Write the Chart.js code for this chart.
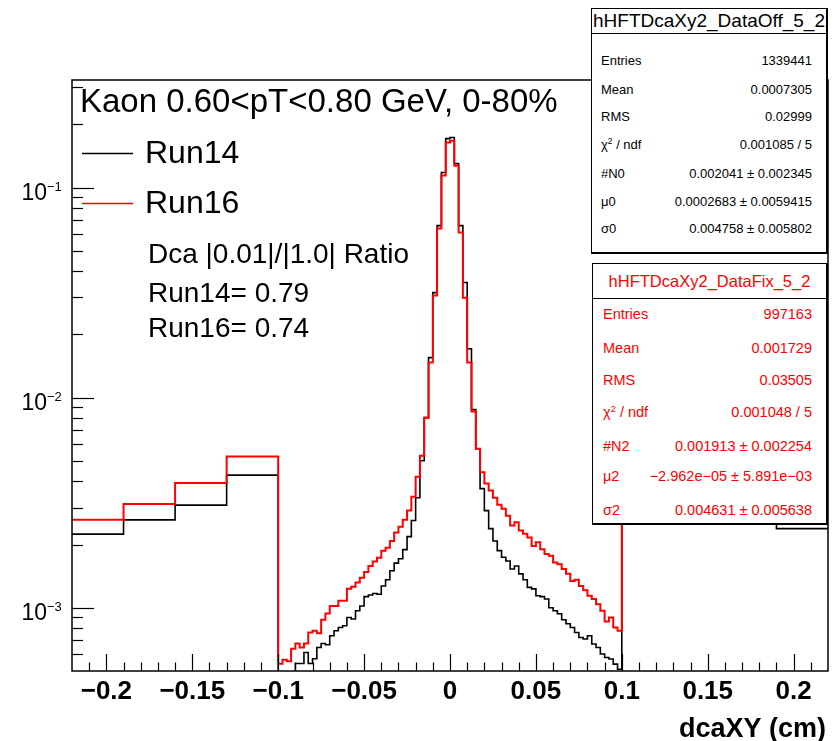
<!DOCTYPE html>
<html>
<head>
<meta charset="utf-8">
<script src="https://cdn.jsdelivr.net/npm/chart.js@4.4.0/dist/chart.umd.min.js"></script>
<style>
  html, body { margin: 0; padding: 0; background: #fff; }
  #wrap { position: relative; width: 836px; height: 741px; font-family: "Liberation Sans", Arial, sans-serif; }
  #c { position: absolute; left: 0; top: 0; }
  .stats { position: absolute; background: #fff; border: 1px solid #000; border-right-width: 2px; border-bottom-width: 2px; box-sizing: border-box; }
  .stats .ttl { position: absolute; left: 0; right: 0; top: 0; text-align: center; white-space: nowrap; border-bottom: 1px solid #000; }
  .stats .row { position: absolute; left: 0; right: 0; height: 20px; line-height: 20px; display: flex; justify-content: space-between; white-space: nowrap; }
  .stats sup { font-size: 65%; vertical-align: 5px; line-height: 0; }
</style>
</head>
<body>
<div id="wrap">
  <canvas id="c" width="836" height="741" style="width:836px;height:741px"></canvas>
</div>
<script>
// binning: 4 wide bins each side, 80 fine bins in the middle
const wideLeftEdges = [-0.22, -0.19, -0.16, -0.13];
const wideRightEdges = [0.10, 0.13, 0.16, 0.19];
const fineLow = -0.1;
const fineWidth = 0.0025;
const xEnd = 0.22;

// Run14 (black)
const run14Left = [2.24e-3, 2.62e-3, 3.08e-3, 4.28e-3];
const run14Fine = [
  4.6e-4, 4.6e-4, 4.7e-4, 4.8e-4, 5.43e-4, 5.43e-4, 6.12e-4, 5.43e-4, 5.72e-4, 6.47e-4,
  6.76e-4, 6.67e-4, 7.36e-4, 7.77e-4, 8.06e-4, 8.21e-4, 8.99e-4, 8.84e-4, 9.68e-4, 1.02e-3,
  1.13e-3, 1.15e-3, 1.17e-3, 1.16e-3, 1.27e-3, 1.36e-3, 1.50e-3, 1.63e-3, 1.71e-3, 1.89e-3,
  2.18e-3, 2.60e-3, 3.34e-3, 5.01e-3, 8.03e-3, 1.55e-2, 3.16e-2, 6.59e-2, 0.118, 0.171,
  0.173, 0.130, 0.0659, 0.0353, 0.0171, 8.77e-3, 5.71e-3, 3.69e-3, 2.90e-3, 2.38e-3,
  2.08e-3, 1.87e-3, 1.74e-3, 1.67e-3, 1.53e-3, 1.58e-3, 1.45e-3, 1.36e-3, 1.25e-3, 1.23e-3,
  1.14e-3, 1.13e-3, 1.10e-3, 1.00e-3, 9.68e-4, 9.36e-4, 8.77e-4, 8.39e-4, 8.06e-4, 7.63e-4,
  7.22e-4, 7.10e-4, 7.36e-4, 6.72e-4, 6.47e-4, 6.02e-4, 5.80e-4, 5.70e-4, 5.39e-4, 5.10e-4
];
const run14Right = [4.2e-3, 3.1e-3, 2.6e-3, 2.38e-3];

// Run16 (red)
const run16Left = [2.62e-3, 3.12e-3, 3.92e-3, 5.24e-3];
const run16Fine = [
  5.41e-4, 5.65e-4, 5.56e-4, 6.38e-4, 6.76e-4, 6.47e-4, 6.76e-4, 7.63e-4, 7.77e-4, 7.56e-4,
  8.77e-4, 9.40e-4, 1.02e-3, 1.02e-3, 1.08e-3, 1.08e-3, 1.23e-3, 1.26e-3, 1.32e-3, 1.39e-3,
  1.48e-3, 1.58e-3, 1.66e-3, 1.73e-3, 1.87e-3, 1.93e-3, 2.08e-3, 2.28e-3, 2.43e-3, 2.62e-3,
  2.90e-3, 3.38e-3, 4.20e-3, 5.29e-3, 8.03e-3, 1.47e-2, 3.06e-2, 6.38e-2, 0.114, 0.164,
  0.167, 0.127, 0.0611, 0.0299, 0.0147, 8.58e-3, 5.71e-3, 4.41e-3, 3.90e-3, 3.61e-3,
  3.34e-3, 3.09e-3, 2.96e-3, 2.74e-3, 2.46e-3, 2.55e-3, 2.33e-3, 2.25e-3, 2.16e-3, 1.97e-3,
  2.05e-3, 1.90e-3, 1.80e-3, 1.77e-3, 1.64e-3, 1.61e-3, 1.53e-3, 1.45e-3, 1.34e-3, 1.36e-3,
  1.27e-3, 1.21e-3, 1.14e-3, 1.10e-3, 1.04e-3, 9.68e-4, 8.6e-4, 8.99e-4, 8.06e-4, 7.77e-4
];
const run16Right = [5.1e-3, 3.9e-3, 3.1e-3, 2.7e-3];

// axis ticks
const xTickValues = [-0.2, -0.15, -0.1, -0.05, 0, 0.05, 0.1, 0.15, 0.2];
const xTickLabels = ['\u22120.2', '\u22120.15', '\u22120.1', '\u22120.05', '0', '0.05', '0.1', '0.15', '0.2'];
const yTickValues = [0.1, 0.01, 0.001];
const yTickExps = ['\u22121', '\u22122', '\u22123'];

// stats boxes
const offLabels = ['Entries', 'Mean', 'RMS', '\u03c7<sup>2</sup> / ndf', '#N0', '\u03bc0', '\u03c30'];
const offValues = ['1339441', '0.0007305', '0.02999', '0.001085 / 5', '0.002041 \u00b1 0.002345', '0.0002683 \u00b1 0.0059415', '0.004758 \u00b1 0.005802'];
const fixLabels = ['Entries', 'Mean', 'RMS', '\u03c7<sup>2</sup> / ndf', '#N2', '\u03bc2', '\u03c32'];
const fixValues = ['997163', '0.001729', '0.03505', '0.001048 / 5', '0.001913 \u00b1 0.002254', '\u22122.962e\u221205 \u00b1 5.891e\u221203', '0.004631 \u00b1 0.005638'];

function histPoints(leftVals, fineVals, rightVals) {
  const pts = [];
  wideLeftEdges.forEach((e, i) => pts.push({ x: e, y: leftVals[i] }));
  fineVals.forEach((v, i) => pts.push({ x: fineLow + i * fineWidth, y: v }));
  wideRightEdges.forEach((e, i) => pts.push({ x: e, y: rightVals[i] }));
  pts.push({ x: xEnd, y: rightVals[rightVals.length - 1] });
  return pts;
}

const FONT = '"Liberation Sans", Arial, sans-serif';

// ROOT-like frame, inward ticks and labels
const rootStyle = {
  id: 'rootStyle',
  afterDatasetsDraw(chart) {
    const { ctx, chartArea: a, scales: { x, y } } = chart;
    ctx.save();
    ctx.strokeStyle = '#000';
    ctx.lineWidth = 1.2;

    // x ticks every 0.01, major every 0.05
    for (let i = -21; i <= 21; i++) {
      const px = Math.round(x.getPixelForValue(i / 100)) + 0.5;
      const len = i % 5 === 0 ? 17 : 8.5;
      ctx.beginPath();
      ctx.moveTo(px, a.bottom);
      ctx.lineTo(px, a.bottom - len);
      ctx.stroke();
    }
    // y log ticks
    for (let e = -4; e <= 0; e++) {
      for (let m = 1; m <= 9; m++) {
        const v = m * Math.pow(10, e);
        if (v <= y.min * 1.001 || v >= y.max) continue;
        const py = Math.round(y.getPixelForValue(v)) + 0.5;
        ctx.beginPath();
        ctx.moveTo(a.left, py);
        ctx.lineTo(a.left + (m === 1 ? 22 : 11), py);
        ctx.stroke();
      }
    }
    // frame
    ctx.lineWidth = 1.5;
    ctx.strokeRect(a.left, a.top, a.right - a.left, a.bottom - a.top);

    ctx.fillStyle = '#000';
    // x labels
    ctx.font = 'bold 26px ' + FONT;
    ctx.textAlign = 'center';
    ctx.textBaseline = 'alphabetic';
    xTickValues.forEach((v, i) => {
      ctx.fillText(xTickLabels[i], x.getPixelForValue(v), a.bottom + 28);
    });
    ctx.font = 'bold 27px ' + FONT;
    ctx.textAlign = 'right';
    ctx.fillText('dcaXY (cm)', a.right - 2, 737);

    // y labels 10^n
    yTickValues.forEach((v, i) => {
      const py = y.getPixelForValue(v);
      ctx.font = '23px ' + FONT;
      ctx.textAlign = 'right';
      ctx.fillText('10', 47, py + 12.5);
      ctx.font = '13px ' + FONT;
      ctx.textAlign = 'left';
      ctx.fillText(yTickExps[i], 47, py + 3);
    });

    // title and legend
    ctx.textAlign = 'left';
    ctx.font = '33px ' + FONT;
    ctx.fillText('Kaon 0.60<pT<0.80 GeV, 0-80%', 80, 112);

    ctx.lineWidth = 1.3;
    ctx.strokeStyle = '#000';
    ctx.beginPath(); ctx.moveTo(82, 153.5); ctx.lineTo(133, 153.5); ctx.stroke();
    ctx.strokeStyle = '#ff0000';
    ctx.beginPath(); ctx.moveTo(82, 203.5); ctx.lineTo(133, 203.5); ctx.stroke();
    ctx.font = '32px ' + FONT;
    ctx.fillText('Run14', 145, 163);
    ctx.fillText('Run16', 145, 213);

    ctx.font = '28px ' + FONT;
    ctx.fillText('Dca |0.01|/|1.0| Ratio', 148, 263);
    ctx.fillText('Run14= 0.79', 148, 302);
    ctx.fillText('Run16= 0.74', 148, 337);
    ctx.restore();
  }
};

new Chart(document.getElementById('c'), {
  type: 'line',
  data: {
    datasets: [
      {
        label: 'Run16',
        data: histPoints(run16Left, run16Fine, run16Right),
        borderColor: '#ff0000',
        borderWidth: 2,
        stepped: 'before',
        pointRadius: 0,
        fill: false,
        order: 0
      },
      {
        label: 'Run14',
        data: histPoints(run14Left, run14Fine, run14Right),
        borderColor: '#000000',
        borderWidth: 1.6,
        stepped: 'before',
        pointRadius: 0,
        fill: false,
        order: 1
      }
    ]
  },
  options: {
    responsive: false,
    animation: false,
    devicePixelRatio: 1,
    events: [],
    layout: { padding: { left: 72, top: 80, right: 8, bottom: 70 } },
    scales: {
      x: { type: 'linear', min: -0.22, max: 0.22, display: false },
      y: { type: 'logarithmic', min: 5e-4, max: 0.325, display: false }
    },
    plugins: { legend: { display: false }, tooltip: { enabled: false } }
  },
  plugins: [rootStyle]
});

// stats boxes as html overlays
function statsBox(box, title, titleSize, labels, values, rowsY, fontSize, color, padL) {
  const div = document.createElement('div');
  div.className = 'stats';
  div.style.left = box[0] + 'px';
  div.style.top = box[1] + 'px';
  div.style.width = (box[2] - box[0]) + 'px';
  div.style.height = (box[3] - box[1]) + 'px';
  div.style.color = color;
  const ttl = document.createElement('div');
  ttl.className = 'ttl';
  ttl.style.height = (box[4] - box[1]) + 'px';
  ttl.style.lineHeight = (box[4] - box[1]) + 'px';
  ttl.style.fontSize = titleSize + 'px';
  ttl.textContent = title;
  div.appendChild(ttl);
  labels.forEach((lab, i) => {
    const row = document.createElement('div');
    row.className = 'row';
    row.style.top = (rowsY[i] - box[1] - 10) + 'px';
    row.style.fontSize = fontSize + 'px';
    row.style.paddingLeft = padL + 'px';
    row.style.paddingRight = '14px';
    row.innerHTML = '<span>' + lab + '</span><span>' + values[i] + '</span>';
    div.appendChild(row);
  });
  document.getElementById('wrap').appendChild(div);
}

statsBox([591, 8, 828, 254, 32], 'hHFTDcaXy2_DataOff_5_2', 19, offLabels, offValues,
  [60, 89, 116, 144, 173, 201, 228], 13, '#000', 9);
statsBox([592, 263, 828, 525, 297], 'hHFTDcaXy2_DataFix_5_2', 16.5, fixLabels, fixValues,
  [313, 347, 379, 411, 445, 475, 509], 14.5, '#ff0000', 10);
</script>
</body>
</html>
